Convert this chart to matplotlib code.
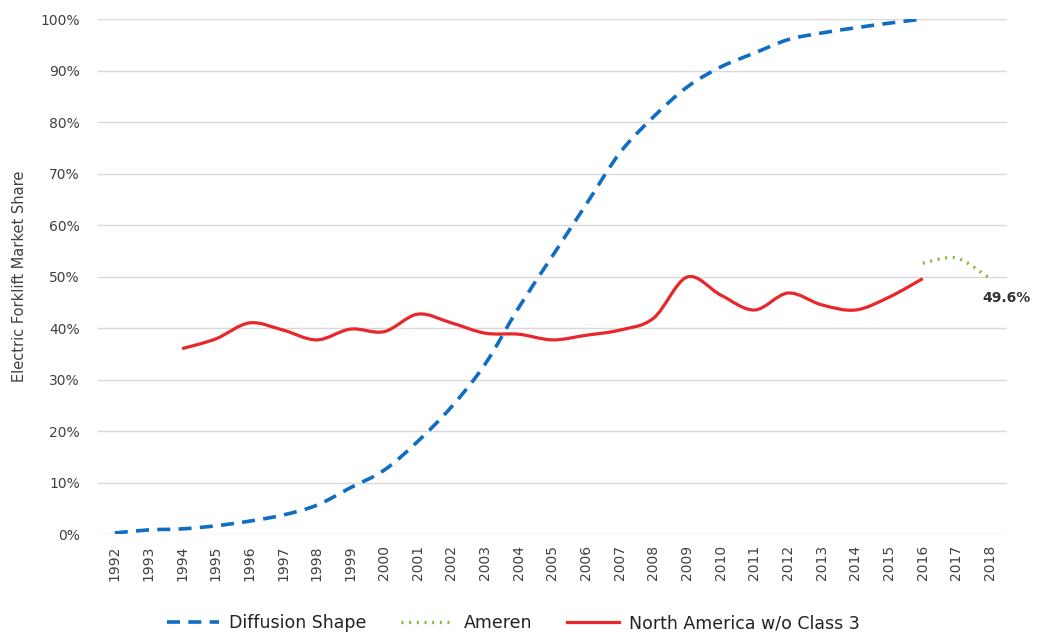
import numpy as np
import matplotlib
matplotlib.use('Agg')
import matplotlib.pyplot as plt
from matplotlib.path import Path
from matplotlib.patches import PathPatch
from matplotlib.lines import Line2D

years = [str(y) for y in range(1992, 2019)]

# values (% market share)
diffusion = [0.2, 0.8, 1.0, 1.6, 2.5, 3.7, 5.6, 9.0, 12.4, 18.0, 24.7, 33.0, 44.0,
             54.0, 64.0, 74.0, 81.0, 86.8, 90.7, 93.4, 96.0, 97.3, 98.3, 99.2, 100.0]
north_am = [36.0, 37.9, 41.0, 39.6, 37.7, 39.8, 39.3, 42.7, 41.0, 39.0, 38.8,
            37.7, 38.6, 39.6, 41.9, 49.9, 46.4, 43.5, 46.8, 44.5, 43.5, 46.0, 49.6]
ameren = [52.6, 53.6, 49.6]

x_diff = np.arange(0, 25)
x_na = np.arange(2, 25)
x_am = np.arange(24, 27)


def smooth_path(x, y):
    # Excel-style smoothed line: Catmull-Rom segments as cubic Bezier
    x = np.asarray(x, float); y = np.asarray(y, float)
    verts = [(x[0], y[0])]
    codes = [Path.MOVETO]
    n = len(x)
    for i in range(n - 1):
        p0 = np.array([x[max(i - 1, 0)], y[max(i - 1, 0)]])
        p1 = np.array([x[i], y[i]])
        p2 = np.array([x[i + 1], y[i + 1]])
        p3 = np.array([x[min(i + 2, n - 1)], y[min(i + 2, n - 1)]])
        c1 = p1 + (p2 - p0) / 6.0
        c2 = p2 - (p3 - p1) / 6.0
        verts += [tuple(c1), tuple(c2), tuple(p2)]
        codes += [Path.CURVE4] * 3
    return Path(verts, codes)


plt.rcParams['font.family'] = ['DejaVu Sans']
fig = plt.figure(figsize=(10.37, 6.35), dpi=100)
ax = fig.add_axes([0.0945, 0.159, 0.8765, 0.811])

blue = '#0F6DC4'
red = '#E8262B'
green = '#8DB43E'
tcol = '#404040'
dash = (0, (3.6, 2.3))
dots = (0, (0.6, 1.7))

ax.add_patch(PathPatch(smooth_path(x_diff, diffusion), fill=False, edgecolor=blue,
                       lw=2.6, linestyle=dash, capstyle='butt', zorder=3))
ax.add_patch(PathPatch(smooth_path(x_am, ameren), fill=False, edgecolor=green,
                       lw=2.4, linestyle=dots, zorder=3))
ax.add_patch(PathPatch(smooth_path(x_na, north_am), fill=False, edgecolor=red,
                       lw=2.3, zorder=4))

ax.annotate('%.1f%%' % ameren[-1], xy=(x_am[-1], ameren[-1]), xytext=(12, -14),
            textcoords='offset points', ha='center', va='center',
            fontsize=10, fontweight='bold', color='#333333')

ax.set_xlim(-0.5, 26.5)
ax.set_ylim(0, 100)
ax.set_yticks(range(0, 101, 10))
ax.set_yticklabels(['%d%%' % v for v in range(0, 101, 10)], fontsize=10, color=tcol)
ax.set_xticks(range(len(years)))
ax.set_xticklabels(years, rotation=90, fontsize=10, color=tcol)
ax.tick_params(axis='x', length=0, pad=8)
ax.tick_params(axis='y', length=0, pad=13)
ax.grid(axis='y', color='#d9d9d9', lw=1.0)
ax.set_axisbelow(True)
for s in ax.spines.values():
    s.set_visible(False)
ax.set_ylabel('Electric Forklift Market Share', fontsize=10.5, color=tcol, labelpad=10)

handles = [Line2D([], [], color=blue, lw=2.6, linestyle=dash),
           Line2D([], [], color=green, lw=2.4, linestyle=dots),
           Line2D([], [], color=red, lw=2.3)]
fig.legend(handles, ['Diffusion Shape', 'Ameren', 'North America w/o Class 3'],
           loc='lower center', bbox_to_anchor=(0.495, -0.02), ncol=3, frameon=False,
           fontsize=12.5, handlelength=3.0, columnspacing=2.0, handletextpad=0.6,
           labelcolor='#222222')

fig.savefig('out.png', dpi=100)
